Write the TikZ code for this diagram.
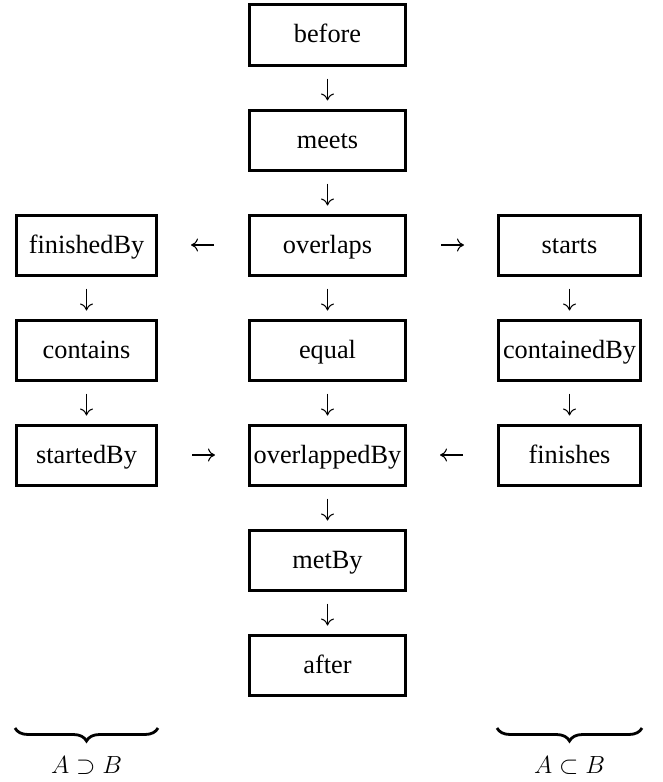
\documentclass[tikz,border=0pt]{standalone}
\usepackage{fontspec}
\setmainfont{Liberation Serif}
\usetikzlibrary{arrows.meta,decorations.pathreplacing}
\begin{document}
\begin{tikzpicture}[x=1bp,y=-1bp,
  box/.style={draw, line width=3bp, rectangle, inner sep=0pt,
    minimum height=60bp, text height=22bp, text depth=6bp,
    font=\fontsize{26.4pt}{30pt}\selectfont},
  lbox/.style={box, minimum width=140bp},
  cbox/.style={box, minimum width=156bp},
  rbox/.style={box, minimum width=142bp},
  conn/.style={-{Computer Modern Rightarrow[length=7bp,width=13bp,line width=1.05bp]}, line width=1.05bp},
  vconn/.style={conn, shorten <=12bp, shorten >=8bp},
  hconn/.style={conn, shorten <=34bp, shorten >=33bp},
  setbrace/.style={decorate, decoration={brace, mirror, amplitude=13bp}, line width=2.8bp},
  setlabel/.style={inner sep=0pt, font=\fontsize{26.4pt}{30pt}\selectfont}]
\useasboundingbox (0,0) rectangle (663,782);
% center column
\node[cbox] (before) at (327.5,35) {before};
\node[cbox] (meets) at (327.5,140) {meets};
\node[cbox] (overlaps) at (327.5,245) {overlaps};
\node[cbox] (equal) at (327.5,350) {equal};
\node[cbox] (overlappedBy) at (327.5,455) {overlappedBy};
\node[cbox] (metBy) at (327.5,560) {metBy};
\node[cbox] (after) at (327.5,665) {after};
% left column
\node[lbox] (finishedBy) at (86.5,245) {finishedBy};
\node[lbox] (contains) at (86.5,350) {contains};
\node[lbox] (startedBy) at (86.5,455) {startedBy};
% right column
\node[rbox] (starts) at (569.5,245) {starts};
\node[rbox] (containedBy) at (569.5,350) {containedBy};
\node[rbox] (finishes) at (569.5,455) {finishes};
% connectors
\draw[vconn] (before) -- (meets);
\draw[vconn] (meets) -- (overlaps);
\draw[vconn] (overlaps) -- (equal);
\draw[vconn] (equal) -- (overlappedBy);
\draw[vconn] (overlappedBy) -- (metBy);
\draw[vconn] (metBy) -- (after);
\draw[vconn] (finishedBy) -- (contains);
\draw[vconn] (contains) -- (startedBy);
\draw[vconn] (starts) -- (containedBy);
\draw[vconn] (containedBy) -- (finishes);
\draw[hconn] (overlaps) -- (finishedBy);
\draw[hconn] (overlaps) -- (starts);
\draw[hconn] (startedBy) -- (overlappedBy);
\draw[hconn] (finishes) -- (overlappedBy);
% braces
\coordinate (lb1) at (15,728);
\coordinate (lb2) at (158,728);
\coordinate (rb1) at (497,728);
\coordinate (rb2) at (642,728);
\draw[setbrace] (lb1) -- (lb2);
\draw[setbrace] (rb1) -- (rb2);
\node[setlabel] (supset) at (86.5,766) {$A\supset B$};
\node[setlabel] (subset) at (569.5,766) {$A\subset B$};
\end{tikzpicture}
\end{document}
